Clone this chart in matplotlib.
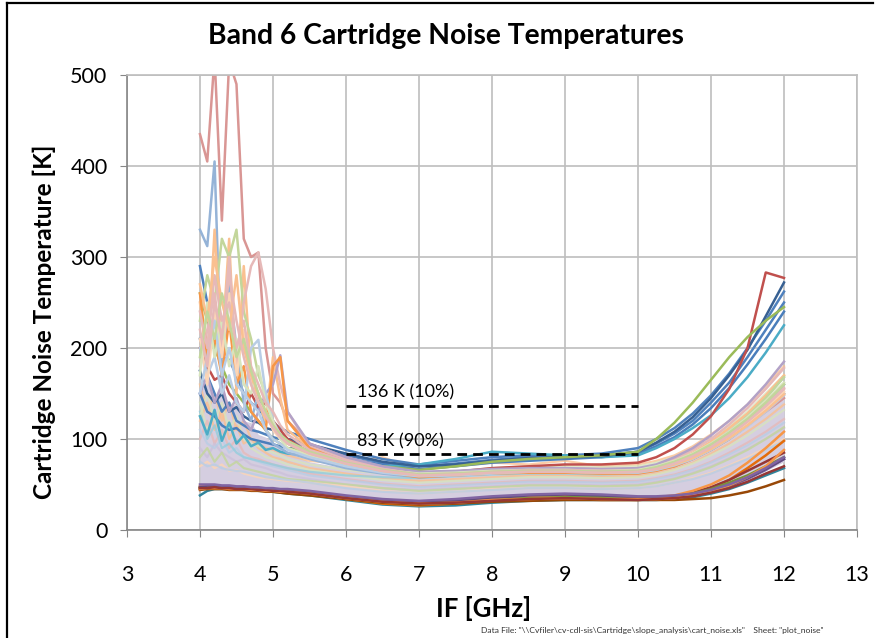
import numpy as np
import matplotlib
matplotlib.use("Agg")
import matplotlib.pyplot as plt
from matplotlib.lines import Line2D

# IF frequency grid (GHz): fine steps where the curves are spiky
if_ghz = [4.0, 4.1, 4.2, 4.3, 4.4, 4.5, 4.6, 4.7, 4.8, 4.9, 5.0, 5.1, 5.2,
          5.5, 6.0, 6.5, 7.0, 7.5, 8.0, 8.5, 9.0, 9.5,
          10.0, 10.25, 10.5, 10.75, 11.0, 11.25, 11.5, 11.75, 12.0]

# dense bulk of the cartridges (drawn as a band)
band_lo = [48, 47, 47, 47, 47, 46, 46, 45, 45, 44, 44, 43, 42,
           40, 37, 33, 31, 33, 35, 37, 37, 37,
           36, 37, 38, 41, 45, 50, 57, 65, 75]
band_hi = [150, 165, 140, 160, 135, 140, 120, 118, 105, 102, 95, 92, 85,
           75, 68, 62, 60, 62, 64, 66, 66, 66,
           67, 70, 76, 86, 98, 112, 128, 145, 160]

# lowest-noise cartridges (dark colours)
low_vals = [
    [38, 43, 45, 45, 45, 45, 44, 44, 43, 43, 42, 41, 40, 38, 33, 28, 26, 27, 30, 32, 33, 33, 33, 33, 34, 36, 40, 45, 52, 60, 68],
    [45, 46, 46, 46, 46, 45, 45, 44, 44, 43, 43, 42, 41, 39, 35, 31, 29, 31, 34, 37, 38, 37, 35, 35, 36, 38, 42, 48, 56, 66, 78],
    [46, 47, 47, 46, 46, 46, 45, 45, 44, 44, 43, 42, 42, 40, 34, 29, 27, 29, 32, 33, 34, 33, 33, 34, 36, 40, 46, 55, 68, 82, 98],
    [44, 45, 45, 45, 44, 44, 44, 43, 43, 42, 42, 41, 40, 38, 34, 30, 28, 29, 31, 32, 33, 33, 33, 33, 33, 34, 35, 38, 42, 48, 55],
    [47, 47, 48, 47, 47, 46, 46, 45, 45, 44, 44, 43, 43, 41, 36, 32, 30, 31, 33, 35, 36, 35, 34, 35, 37, 41, 47, 55, 65, 75, 85],
    [48, 48, 49, 48, 48, 47, 47, 46, 46, 45, 45, 44, 44, 42, 37, 33, 31, 33, 35, 36, 37, 36, 35, 36, 38, 43, 50, 60, 74, 90, 108],
    [46, 47, 47, 47, 46, 46, 46, 45, 45, 44, 44, 43, 43, 41, 36, 32, 29, 30, 33, 35, 36, 36, 35, 35, 37, 40, 45, 52, 60, 70, 80],
    [47, 48, 48, 48, 47, 47, 46, 46, 45, 45, 44, 43, 43, 41, 37, 33, 31, 32, 35, 38, 39, 38, 36, 36, 37, 39, 43, 49, 57, 67, 78],
    [45, 46, 46, 46, 45, 45, 45, 44, 44, 43, 43, 42, 42, 40, 35, 31, 29, 30, 33, 34, 35, 34, 34, 34, 35, 38, 42, 49, 58, 70, 88],
    [46, 46, 47, 46, 46, 45, 45, 45, 44, 44, 43, 43, 42, 40, 35, 31, 29, 30, 32, 34, 35, 34, 33, 34, 35, 37, 41, 46, 53, 62, 70],
    [50, 50, 50, 49, 49, 48, 48, 47, 47, 46, 46, 45, 45, 43, 38, 34, 32, 34, 37, 39, 40, 39, 37, 37, 38, 40, 44, 50, 58, 68, 80],
]
low_colors = ["#31859C", "#8064A2", "#E46C0A", "#984807", "#953735", "#F79646",
              "#77933C", "#604A7B", "#F79646", "#953735", "#8064A2"]

# middle-of-the-pack cartridges (pastel colours)
mid_vals = [
    [120, 140, 110, 130, 100, 115, 95, 100, 90, 85, 80, 78, 75, 68, 62, 57, 54, 56, 58, 60, 60, 59, 59, 62, 67, 74, 84, 95, 108, 122, 138],
    [140, 110, 130, 100, 120, 95, 105, 90, 85, 80, 78, 75, 72, 66, 60, 55, 52, 54, 56, 58, 58, 57, 58, 61, 66, 73, 82, 92, 104, 118, 132],
    [100, 120, 95, 110, 90, 100, 85, 80, 78, 75, 72, 70, 68, 62, 56, 51, 48, 50, 52, 54, 54, 53, 54, 57, 61, 67, 75, 85, 96, 108, 122],
    [90, 80, 95, 85, 80, 75, 78, 72, 70, 68, 65, 63, 60, 56, 50, 46, 44, 46, 48, 50, 50, 49, 50, 53, 57, 63, 70, 79, 89, 100, 112],
    [110, 95, 90, 100, 85, 90, 80, 78, 75, 72, 70, 68, 66, 60, 55, 50, 47, 49, 51, 53, 53, 52, 53, 56, 60, 66, 74, 83, 93, 105, 118],
    [80, 90, 75, 85, 70, 75, 68, 66, 64, 62, 60, 58, 56, 54, 50, 46, 43, 45, 47, 49, 49, 48, 49, 52, 56, 62, 69, 78, 88, 100, 113],
    [70, 75, 68, 72, 65, 66, 62, 60, 58, 57, 56, 55, 54, 52, 48, 43, 40, 42, 45, 46, 46, 45, 46, 48, 52, 57, 63, 71, 80, 90, 100],
    [130, 100, 115, 90, 95, 85, 80, 78, 76, 74, 72, 70, 68, 64, 60, 58, 57, 59, 61, 62, 62, 61, 62, 66, 73, 82, 94, 108, 125, 145, 168],
    [160, 130, 150, 120, 140, 110, 120, 100, 95, 90, 88, 85, 82, 76, 72, 80, 66, 70, 74, 72, 76, 70, 72, 76, 82, 92, 105, 120, 138, 158, 180],
    [125, 150, 120, 140, 110, 125, 100, 95, 92, 88, 85, 82, 78, 72, 66, 62, 62, 64, 68, 70, 70, 69, 70, 74, 80, 88, 100, 114, 130, 150, 170],
    [75, 70, 72, 68, 66, 65, 64, 62, 60, 58, 57, 56, 55, 52, 46, 42, 40, 42, 44, 46, 46, 45, 46, 48, 52, 56, 62, 70, 78, 88, 98],
]
mid_colors = ["#FAC090", "#D7E4BD", "#E6B9B8", "#CCC1DA", "#B9CDE5", "#C3D69B",
              "#FCD5B5", "#93CDDD", "#FAC090", "#D7E4BD", "#B9CDE5"]

# cartridges with large excursions at the low IF end
spike_vals = [
    [435, 405, 520, 340, 515, 490, 320, 300, 305, 200, 150, 140, 120, 95, 80, 68, 62, 63, 66, 67, 66, 65, 64, 66, 70, 78, 88, 100, 115, 130, 145],
    [330, 312, 405, 160, 270, 200, 140, 120, 150, 110, 95, 90, 85, 78, 68, 62, 58, 60, 63, 65, 64, 63, 63, 66, 72, 80, 92, 105, 122, 140, 160],
    [250, 180, 330, 200, 320, 150, 290, 170, 140, 120, 190, 145, 110, 90, 75, 66, 60, 62, 64, 66, 66, 65, 66, 70, 76, 85, 97, 112, 128, 148, 170],
    [230, 280, 250, 320, 300, 330, 240, 210, 170, 150, 115, 105, 95, 82, 72, 64, 60, 61, 63, 64, 64, 64, 64, 68, 74, 82, 94, 108, 125, 145, 168],
    [180, 220, 260, 200, 300, 180, 250, 290, 305, 265, 200, 160, 130, 92, 78, 68, 62, 64, 66, 67, 68, 67, 67, 70, 78, 88, 100, 116, 134, 155, 178],
    [150, 170, 140, 160, 130, 145, 120, 110, 130, 150, 160, 192, 130, 95, 80, 70, 64, 65, 67, 68, 68, 67, 68, 72, 80, 90, 104, 120, 138, 160, 185],
    [260, 190, 210, 170, 230, 160, 180, 130, 120, 110, 180, 190, 120, 90, 74, 64, 58, 60, 62, 63, 63, 62, 62, 65, 70, 78, 88, 100, 115, 132, 150],
    [200, 170, 190, 150, 170, 140, 130, 200, 209, 150, 120, 105, 95, 85, 72, 65, 60, 62, 64, 65, 65, 64, 64, 67, 72, 80, 90, 102, 116, 132, 150],
    [210, 160, 240, 190, 260, 170, 220, 160, 140, 130, 110, 100, 95, 86, 74, 66, 61, 62, 64, 65, 65, 64, 65, 68, 73, 80, 90, 102, 117, 134, 152],
    [170, 250, 190, 230, 180, 210, 160, 150, 180, 140, 120, 100, 90, 82, 72, 66, 62, 63, 65, 66, 66, 65, 66, 70, 76, 84, 95, 108, 124, 142, 162],
    [240, 200, 280, 230, 250, 200, 230, 180, 160, 140, 130, 115, 105, 88, 76, 67, 61, 62, 64, 66, 66, 65, 65, 68, 74, 82, 92, 105, 120, 137, 156],
    [150, 190, 230, 170, 200, 160, 150, 140, 130, 110, 100, 95, 88, 80, 70, 63, 59, 60, 62, 64, 64, 63, 63, 66, 71, 78, 88, 100, 114, 130, 148],
    [270, 230, 300, 250, 220, 280, 200, 170, 150, 130, 115, 105, 95, 84, 73, 65, 60, 61, 63, 64, 64, 63, 64, 67, 72, 79, 89, 101, 115, 131, 149],
    [190, 240, 210, 260, 230, 190, 210, 175, 150, 130, 115, 105, 98, 86, 74, 66, 61, 62, 64, 65, 65, 64, 65, 69, 75, 83, 94, 107, 122, 140, 160],
    [220, 180, 250, 210, 280, 230, 190, 160, 140, 125, 112, 102, 95, 84, 73, 65, 60, 61, 63, 64, 64, 63, 64, 67, 73, 81, 91, 104, 119, 136, 155],
]
spike_colors = ["#D99694", "#95B3D7", "#FAC090", "#C3D69B", "#E6B9B8", "#B3A2C7",
                "#F79646", "#B9CDE5", "#FCD5B5", "#D7E4BD", "#E6B9B8", "#B9CDE5",
                "#FAC090", "#C3D69B", "#E6B9B8"]

# noisiest cartridges (upper envelope)
high_vals = [
    [290, 250, 200, 190, 187, 170, 150, 140, 132, 125, 118, 112, 108, 100, 88, 78, 72, 76, 80, 82, 82, 84, 90, 100, 112, 128, 148, 172, 200, 230, 262],
    [210, 170, 150, 130, 140, 120, 115, 110, 108, 105, 102, 100, 97, 92, 82, 74, 70, 73, 77, 80, 80, 82, 86, 95, 106, 120, 140, 162, 190, 220, 250],
    [150, 130, 125, 115, 110, 112, 105, 100, 98, 96, 94, 92, 90, 88, 78, 72, 67, 70, 74, 76, 78, 80, 84, 92, 102, 116, 134, 156, 182, 210, 240],
    [125, 105, 132, 98, 118, 95, 104, 92, 96, 88, 90, 86, 84, 82, 76, 70, 72, 78, 86, 84, 82, 80, 82, 90, 100, 112, 126, 145, 168, 195, 225],
    [175, 150, 140, 150, 130, 135, 125, 120, 118, 112, 110, 105, 100, 94, 84, 75, 70, 72, 76, 79, 80, 81, 86, 96, 108, 124, 145, 170, 198, 235, 272],
    [200, 180, 165, 170, 150, 140, 130, 150, 135, 140, 120, 110, 100, 85, 72, 65, 62, 64, 68, 70, 72, 72, 74, 80, 90, 105, 125, 155, 200, 283, 277],
    [260, 230, 200, 180, 160, 150, 140, 130, 120, 110, 100, 95, 90, 84, 76, 70, 66, 70, 75, 78, 80, 82, 86, 100, 118, 140, 165, 190, 212, 230, 245],
]
high_colors = ["#4F81BD", "#4F81BD", "#4A7EBB", "#4BACC6", "#376092", "#C0504D", "#9BBB59"]

# specification lines
spec_if = [6, 10]
spec_temps = [136, 83]
spec_labels = ["136 K (10%)", "83 K (90%)"]

font = "Lato"

fig = plt.figure(figsize=(8.78, 6.38), dpi=100)
ax = fig.add_axes([0.1446, 0.1693, 0.8315, 0.7131])

ax.fill_between(if_ghz, band_lo, band_hi, color="#D5CEE0", lw=0, zorder=2)
for vals, c in zip(mid_vals, mid_colors):
    ax.plot(if_ghz, vals, color=c, lw=1.6, alpha=0.8, zorder=2.1)
for vals, c in zip(low_vals, low_colors):
    ax.plot(if_ghz, vals, color=c, lw=1.8, zorder=2.2)
for vals, c in zip(high_vals, high_colors):
    ax.plot(if_ghz, vals, color=c, lw=1.8, zorder=2.3)
for vals, c in zip(spike_vals, spike_colors):
    ax.plot(if_ghz, vals, color=c, lw=1.8, zorder=2.4)

for t, lab in zip(spec_temps, spec_labels):
    ax.plot(spec_if, [t, t], color="black", lw=2, ls=(0, (3.5, 2.2)), zorder=5)
    ax.text(spec_if[0] + 0.15, t + 6, lab, fontsize=13, family=font,
            va="bottom", ha="left", zorder=5)

ax.set_xlim(3, 13)
ax.set_ylim(0, 500)
ax.set_xticks(range(3, 14))
ax.set_yticks(range(0, 501, 100))
ax.grid(True, color="#BEBEBE", lw=1.2)
ax.set_axisbelow(True)
for s in ["top", "right"]:
    ax.spines[s].set_color("#BEBEBE")
    ax.spines[s].set_linewidth(1.2)
for s in ["left", "bottom"]:
    ax.spines[s].set_color("#868686")
    ax.spines[s].set_linewidth(1.2)
ax.tick_params(axis="both", direction="out", length=5, color="#868686",
               labelsize=15.5)
ax.tick_params(axis="x", pad=20)
ax.tick_params(axis="y", pad=9)
for lab in ax.get_xticklabels() + ax.get_yticklabels():
    lab.set_family(font)

fig.text(0.508, 0.9436, "Band 6 Cartridge Noise Temperatures", ha="center",
         va="center", fontsize=20.3, fontweight="bold", family=font)
fig.text(0.050, 0.495, "Cartridge Noise Temperature [K]", ha="center",
         va="center", rotation=90, fontsize=17.5, fontweight="bold", family=font)
fig.text(0.551, 0.047, "IF [GHz]", ha="center", va="center", fontsize=18.5,
         fontweight="bold", family=font)
fig.text(0.743, 0.0125,
         'Data File: "\\\\Cvfiler\\cv-cdl-sis\\Cartridge\\slope_analysis\\cart_noise.xls"    Sheet: "plot_noise"',
         ha="center", va="center", fontsize=6.1, family=font, color="#333333")

# frame of the chart area
fig.add_artist(Line2D([0.008, 0.008], [0.0, 0.995], transform=fig.transFigure,
                      color="black", lw=1.6))
fig.add_artist(Line2D([0.008, 0.994], [0.995, 0.995], transform=fig.transFigure,
                      color="black", lw=1.6))

fig.savefig("out.png", dpi=100)
